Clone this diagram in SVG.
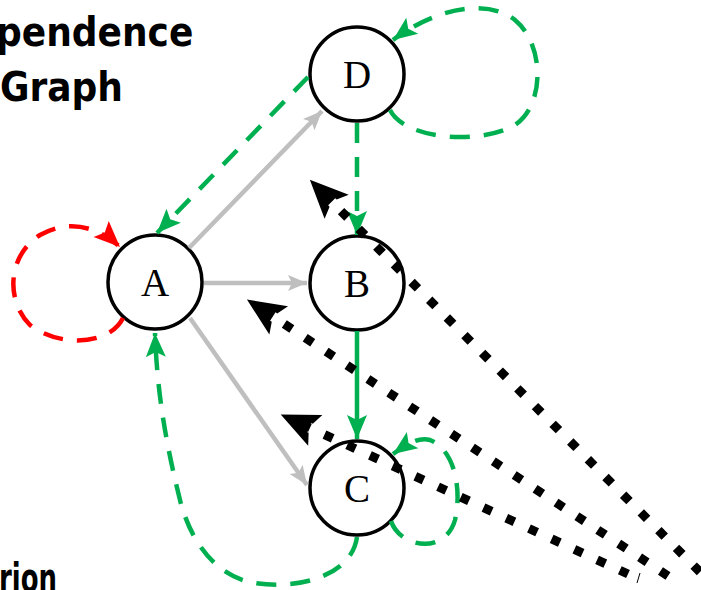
<svg xmlns="http://www.w3.org/2000/svg" width="701" height="590" viewBox="0 0 701 590">
<style>
.node circle{fill:#fff;stroke:#000;stroke-width:3.5}
.node text{font-family:"Liberation Serif","Times New Roman",serif;font-size:39px;text-anchor:middle;fill:#000}
.title{font-family:"DejaVu Sans Condensed","DejaVu Sans",sans-serif;font-weight:bold;font-size:40px;fill:#000}
.gray{fill:none;stroke:#bfbfbf;stroke-width:4.5}
.gdash{fill:none;stroke:#00b050;stroke-width:4.5;stroke-dasharray:20 14}
.gsolid{fill:none;stroke:#00b050;stroke-width:4.5}
.rdash{fill:none;stroke:#ff0000;stroke-width:4.5;stroke-dasharray:20 14}
.dot{fill:none;stroke:#000;stroke-width:9;stroke-dasharray:9 16}
</style>
<defs>
<marker id="ag" markerUnits="userSpaceOnUse" orient="auto" markerWidth="60" markerHeight="60" refX="0" refY="0" viewBox="-30 -30 60 60" overflow="visible"><path d="M0,0 L-19,-8 L-15,0 L-19,8 Z" fill="#bfbfbf"/></marker>
<marker id="agr" markerUnits="userSpaceOnUse" orient="auto" markerWidth="60" markerHeight="60" refX="0" refY="0" viewBox="-30 -30 60 60" overflow="visible"><path d="M0,0 L-24,-10 L-19,0 L-24,10 Z" fill="#00b050"/></marker>
<marker id="ard" markerUnits="userSpaceOnUse" orient="auto" markerWidth="60" markerHeight="60" refX="0" refY="0" viewBox="-30 -30 60 60" overflow="visible"><path d="M0,0 L-26,-11 L-21,0 L-26,11 Z" fill="#ff0000"/></marker>
<marker id="abk" markerUnits="userSpaceOnUse" orient="auto" markerWidth="100" markerHeight="100" refX="0" refY="0" viewBox="-50 -50 100 100" overflow="visible"><path d="M30,0 L-8,-17 L-3,-5 L-1,-5 L-1,5 L-3,5 L-8,17 Z" fill="#000"/></marker>
</defs>
<g id="labels">
<text class="title" x="-4" y="46">pendence</text>
<text class="title" x="0" y="101" font-size="42">Graph</text>
<text class="title" x="-1" y="592" textLength="58" lengthAdjust="spacingAndGlyphs">rion</text>
</g>
<g id="node-A" class="node"><circle cx="155" cy="282" r="47"/><text x="155" y="296">A</text></g>
<g id="node-B" class="node"><circle cx="357" cy="283" r="47"/><text x="357" y="297">B</text></g>
<g id="node-C" class="node"><circle cx="357" cy="488" r="47"/><text x="357" y="502">C</text></g>
<g id="node-D" class="node"><circle cx="357" cy="74" r="47"/><text x="357" y="88">D</text></g>
<g id="connectors">
<path class="gray" d="M189,248 L322,111" marker-end="url(#ag)"/>
<path class="gray" d="M204,283 L307,283" marker-end="url(#ag)"/>
<path class="gray" d="M190,318 L307,485" marker-end="url(#ag)"/>
<path class="gdash" d="M308,77 L157,233" marker-end="url(#agr)"/>
<path class="gdash" d="M357,123 L357,235" marker-end="url(#agr)"/>
<path class="gsolid" d="M357,331 L357,439" marker-end="url(#agr)"/>
<path class="gdash" d="M390,110 C405,140 480,145 515,125 C545,105 545,45 515,20 C490,0 440,5 393,40" marker-end="url(#agr)"/>
<path class="gdash" d="M391,521 C400,548 445,555 455,520 C462,490 455,450 430,440 C420,437 410,442 393,454" marker-end="url(#agr)"/>
<path class="gdash" d="M357,537 C352,575 300,590 255,583 C215,577 190,540 180,500 C165,440 157,390 155,333" marker-end="url(#agr)"/>
<path class="rdash" d="M123,318 C110,345 60,348 30,325 C5,300 8,255 40,235 C70,218 100,228 120,247" marker-end="url(#ard)"/>
<path class="dot" d="M700,572 L331,201" marker-end="url(#abk)"/>
<path class="dot" d="M668,576 L272,316" marker-end="url(#abk)"/>
<path class="dot" d="M628,574 L308,427" marker-end="url(#abk)"/>
<path d="M640,573 L637,583" stroke="#000" stroke-width="1" fill="none"/>
</g>
</svg>
